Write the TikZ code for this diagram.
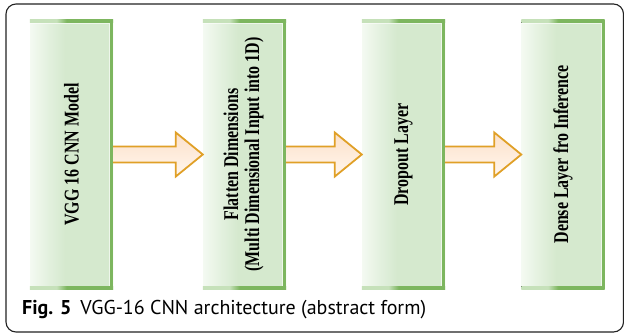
\documentclass[tikz,border=0pt]{standalone}
\usepackage{fontspec}
\usepackage{graphicx}
\newfontfamily\layerfont{Liberation Serif}
\newfontfamily\capfont{PT Sans}
\usetikzlibrary{calc}

\definecolor{edgegreen}{HTML}{7DB65F}
\definecolor{edgelight}{HTML}{C6E1BA}
\definecolor{fillwhite}{HTML}{F4FAF2}
\definecolor{fillgreen}{HTML}{D5E9CE}
\definecolor{arrowline}{HTML}{E0A027}
\definecolor{arrowtop}{HTML}{FCE1CA}
\definecolor{arrowbot}{HTML}{FFF6EE}
\definecolor{framecol}{HTML}{222222}

% box body: pale on the left, light green from about a third of the width
\pgfdeclarehorizontalshading{layerfill}{100bp}{color(0bp)=(fillwhite); color(25bp)=(fillwhite); color(36bp)=(fillgreen!55!fillwhite); color(46bp)=(fillgreen); color(100bp)=(fillgreen)}
% top and bottom edges: light on the left, full green on the right
\pgfdeclarehorizontalshading{edgefade}{100bp}{color(0bp)=(edgelight); color(25bp)=(edgelight); color(41bp)=(edgelight); color(47bp)=(edgegreen); color(100bp)=(edgegreen)}

\tikzset{
  layerbox/.style={shading=layerfill, minimum width=83bp, minimum height=269bp, inner sep=0pt},
  layertext/.style={rotate=90, font=\layerfont\bfseries\fontsize{21bp}{21bp}\selectfont, inner sep=0pt},
  blockarrow/.style={draw=arrowline, line width=1.8bp, line join=miter, top color=arrowtop, bottom color=arrowbot},
  frame/.style={draw=framecol, line width=1.1bp, rounded corners=10bp},
  caption/.style={anchor=base west, inner sep=0pt, font=\capfont\fontsize{20bp}{22bp}\selectfont}
}

% block arrow from the east side of #1 to the west side of #2
\newcommand{\fatarrow}[2]{%
  \draw[blockarrow]
    ($(#1.east)+(0,-8)$) -- ($(#2.west)+(-27,-8)$) -- ($(#2.west)+(-27,-22)$)
    -- (#2.west)
    -- ($(#2.west)+(-27,22)$) -- ($(#2.west)+(-27,8)$) -- ($(#1.east)+(0,8)$);}

% green border: shaded top and bottom strips, solid right strip
\newcommand{\layeredge}[1]{%
  \fill[shading=edgefade] (#1.north west) rectangle ($(#1.north east)+(0,3)$);
  \fill[shading=edgefade] ($(#1.south west)+(0,-3)$) rectangle (#1.south east);
  \fill[edgegreen] ($(#1.north east)+(-3,0)$) rectangle (#1.south east);
  \draw[white, opacity=0.6, line width=0.8bp] ($(#1.north west)+(0,3.6)$) -- ($(#1.north east)+(-3.6,3.6)$) -- ($(#1.south east)+(-3.6,-3.6)$);}

\begin{document}
\begin{tikzpicture}[x=1bp, y=-1bp]
\useasboundingbox (0,0) rectangle (624,334);

% outer frame
\coordinate (fnw) at (6,4);
\coordinate (fse) at (623.5,332);
\draw[frame] (fnw) rectangle (fse);

% layer boxes
\node[layerbox] (b1) at (71.5,154.5) {};
\node[layerbox] (b2) at (244.5,154.5) {};
\node[layerbox] (b3) at (403.5,154.5) {};
\node[layerbox] (b4) at (563,154.5) {};

% arrows between the layers
\fatarrow{b1}{b2}
\fatarrow{b2}{b3}
\fatarrow{b3}{b4}

\layeredge{b1}
\layeredge{b2}
\layeredge{b3}
\layeredge{b4}

% layer labels
\node[layertext] (t1) at (b1.center) {\scalebox{0.76}[1]{VGG 16 CNN Model}};
\node[layertext] (t2) at (b2.center) {\scalebox{0.76}[1]{\begin{tabular}{@{}c@{}}Flatten Dimensions\\(Multi Dimensional Input into 1D)\end{tabular}}};
\node[layertext] (t3) at (b3.center) {\scalebox{0.76}[1]{Dropout Layer}};
\node[layertext] (t4) at (b4.center) {\scalebox{0.76}[1]{Dense Layer fro Inference}};

% caption
\node[caption] (cap) at (22,314) {\textbf{Fig. 5}\hspace{0.45em}VGG-16 CNN architecture (abstract form)};
\end{tikzpicture}
\end{document}
